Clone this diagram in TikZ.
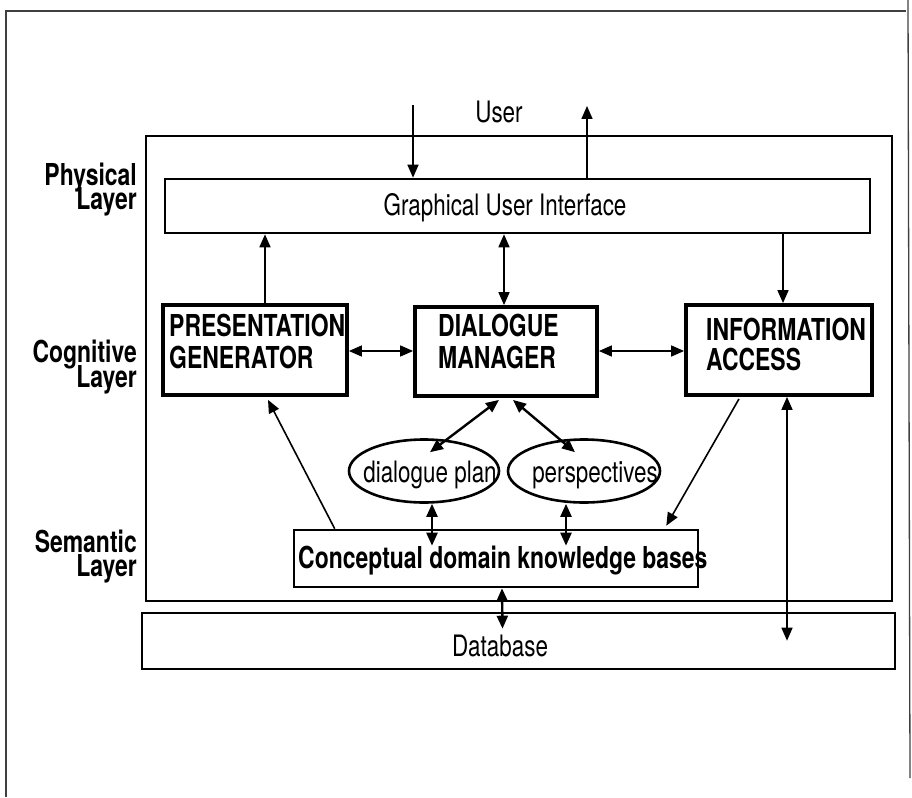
\documentclass[tikz,border=0pt]{standalone}
\usepackage{fontspec}
\setmainfont{TeX Gyre Heros}[FakeStretch=0.76]
\usetikzlibrary{arrows.meta,shapes.geometric,calc}
\begin{document}
\begin{tikzpicture}[x=1pt,y=-1pt,
  reg/.style={font=\fontsize{29.5}{29.5}\selectfont, inner sep=0pt},
  bld/.style={font=\fontsize{30.2}{30.2}\selectfont\bfseries, inner sep=0pt},
  box/.style={draw, rectangle, inner sep=0pt, line width=2.6pt},
  heavybox/.style={draw, rectangle, inner sep=0pt, line width=3.8pt},
  oval/.style={draw, ellipse, inner sep=0pt, line width=2.6pt},
  frameline/.style={line width=1.3pt, black!75},
  conn/.style={line width=1.6pt},
  thk/.style={line width=2.4pt},
  >={Triangle[length=13pt,width=11pt]},
]
\useasboundingbox (0,0) rectangle (912,797);

% page frame
\draw[frameline] (6,797) -- (6,11) -- (906,11);
\draw[frameline] (908,0) -- (910,778);

% boxes
\node[box, minimum width=746, minimum height=465] (sys) at (519,368.5) {};
\node[box, minimum width=705, minimum height=54] (gui) at (517.5,206) {};
\node[heavybox, minimum width=184, minimum height=90] (pg) at (255,350) {};
\node[heavybox, minimum width=182, minimum height=89] (dm) at (506,351.5) {};
\node[heavybox, minimum width=186, minimum height=90] (ia) at (779,350) {};
\node[box, minimum width=404, minimum height=57] (kb) at (496,558.5) {};
\node[box, minimum width=753, minimum height=56] (db) at (518.5,641) {};
\node[oval, minimum width=150, minimum height=63] (dp) at (424,471) {};
\node[oval, minimum width=152, minimum height=63] (ps) at (584,471) {};

% texts
\node[reg, anchor=base] (user) at (499,122) {User};
\node[reg, anchor=base] (guit) at (505,215) {Graphical User Interface};
\node[bld, anchor=base west] (pg1) at (169,336) {PRESENTATION};
\node[bld, anchor=base west] (pg2) at (169,368) {GENERATOR};
\node[bld, anchor=base west] (dm1) at (438,336) {DIALOGUE};
\node[bld, anchor=base west] (dm2) at (438,368) {MANAGER};
\node[bld, anchor=base west] (ia1) at (706,340) {INFORMATION};
\node[bld, anchor=base west] (ia2) at (706,370) {ACCESS};
\node[reg, anchor=base] (dpt) at (430,482) {dialogue plan};
\node[reg, anchor=base] (pst) at (595,482) {perspectives};
\node[bld, anchor=base west] (kbt) at (298,568) {Conceptual domain knowledge bases};
\node[reg, anchor=base] (dbt) at (500,656) {Database};

% layer labels
\node[bld, anchor=base east] (phy1) at (137,185) {Physical};
\node[bld, anchor=base east] (phy2) at (137,209) {Layer};
\node[bld, anchor=base east] (cog1) at (137,362) {Cognitive};
\node[bld, anchor=base east] (cog2) at (137,387) {Layer};
\node[bld, anchor=base east] (sem1) at (137,552) {Semantic};
\node[bld, anchor=base east] (sem2) at (137,576) {Layer};

% user connections
\coordinate (uin) at (413,105);
\coordinate (uout) at (587,106);
\draw[conn,->] (uin) -- (uin |- gui.north);
\draw[conn,->] (587,0 |- gui.north) -- (uout);

% physical <-> cognitive
\draw[conn,->] (265,0 |- pg.north) -- (265,0 |- gui.south);
\draw[conn,<->] (504,0 |- gui.south) -- (504,0 |- dm.north);
\draw[conn,->] (783,0 |- gui.south) -- (783,0 |- ia.north);

% within the cognitive layer
\draw[conn,<->] (pg.east |- 0,351) -- (dm.west |- 0,351);
\draw[conn,<->] (dm.east |- 0,351) -- (ia.west |- 0,351);
\draw[thk,<->] ($(dm.south)+(-7,2)$) -- ($(dp.north)+(6,14)$);
\draw[thk,<->] ($(dm.south)+(7,2)$) -- ($(ps.north)+(-9,14)$);

% semantic layer
\draw[conn,->] ($(kb.north west)+(42,0)$) -- ($(pg.south)+(13,3)$);
\draw[conn,->] ($(ia.south)+(-40,2)$) -- ($(kb.north east)+(-33,-3)$);
\draw[thk,<->] (432,0 |- dp.south) -- ($(kb.north)+(-64,17)$);
\draw[thk,<->] (566,0 |- ps.south) -- ($(kb.north)+(70,17)$);
\draw[thk,<->] (502,0 |- kb.south) -- ($(db.north)+(-16,17)$);
\draw[conn,<->] (787,0 |- ia.south) -- ($(787,0 |- db.north)+(0,29)$);
\end{tikzpicture}
\end{document}
